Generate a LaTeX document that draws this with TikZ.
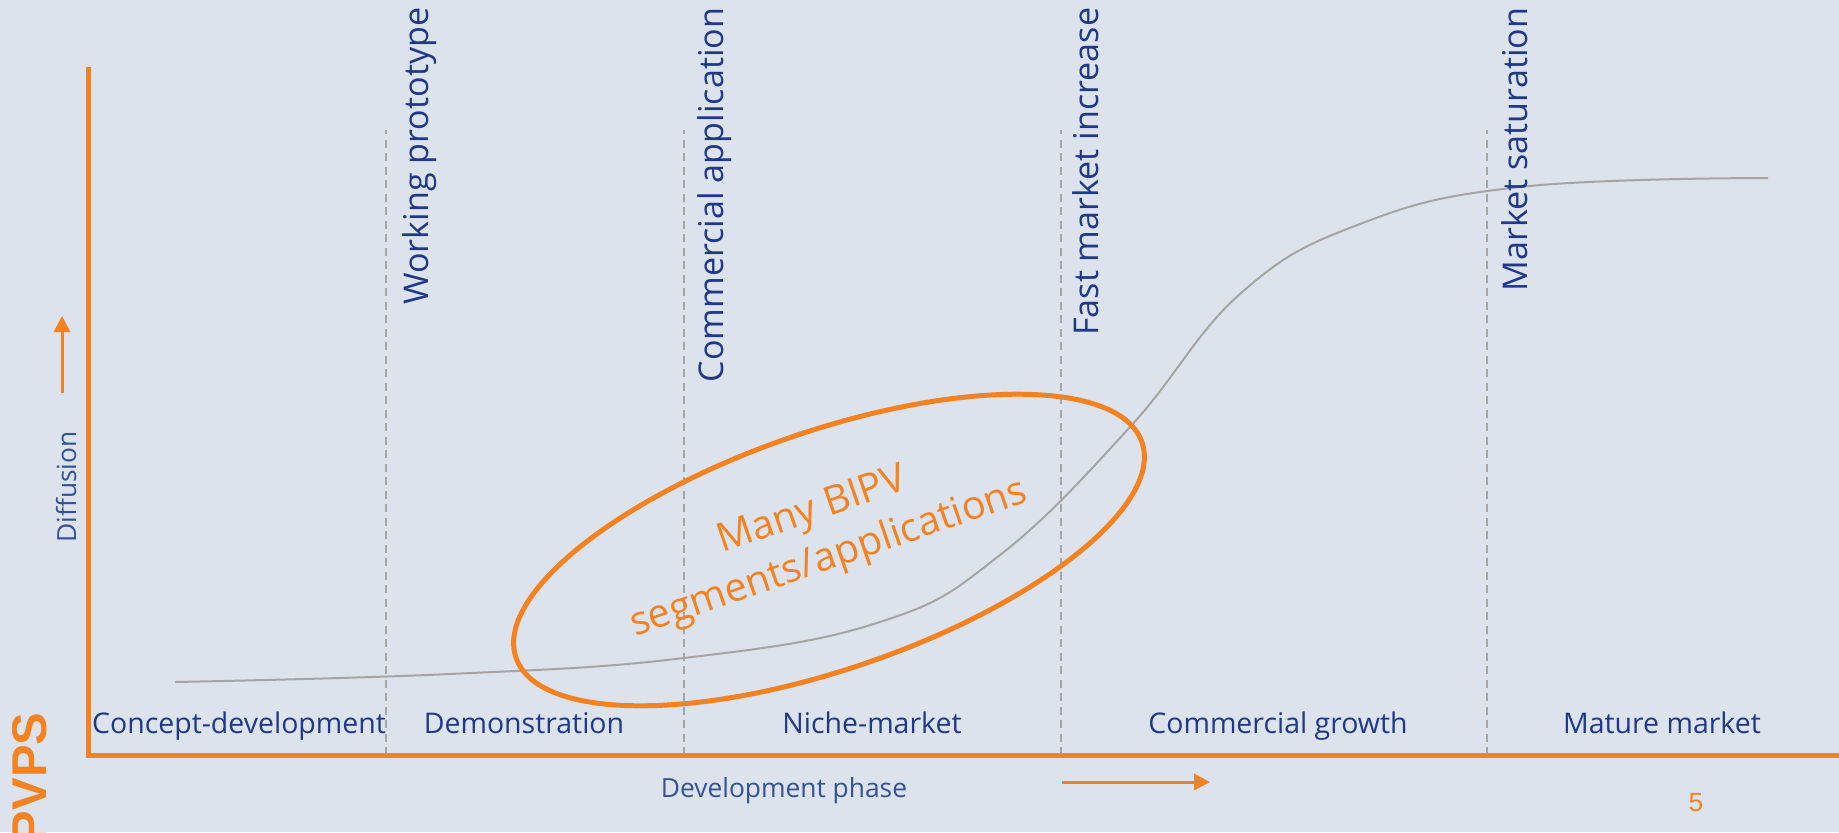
\documentclass[tikz,border=0pt]{standalone}
\usepackage{fontspec}
\setmainfont{Open Sans}
\newfontfamily\logofont{Liberation Sans}
\usetikzlibrary{arrows.meta}

\definecolor{bgblue}{RGB}{220,227,236}
\definecolor{pvorange}{RGB}{245,130,32}
\definecolor{navy}{RGB}{31,56,138}
\definecolor{axisblue}{RGB}{52,82,150}
\definecolor{curvegray}{RGB}{165,165,165}

\begin{document}
\begin{tikzpicture}[x=0.1mm, y=0.1mm,
    milestone/.style={rotate=90, anchor=base east, inner sep=0pt, text=navy, font=\fontsize{9.7}{11}\selectfont},
    phase/.style={anchor=base, inner sep=0pt, text=navy, font=\fontsize{8.1}{10}\selectfont},
    axislabel/.style={inner sep=0pt, text=axisblue, font=\fontsize{7.5}{9}\selectfont},
    guide/.style={curvegray, line width=0.2mm, dash pattern=on 0.8mm off 0.55mm},
    orangearrow/.style={pvorange, line width=0.3mm, -{Triangle[length=1.6mm, width=1.6mm]}}]
    \def\lw{0.5mm}

    % Фон
    \fill[bgblue] (0,0) rectangle (1839,832);
    \useasboundingbox (0,0) rectangle (1839,832);
    \clip (0,0) rectangle (1839,832);

    % Пунктирные линии этапов
    \draw[guide] (386,77) -- (386,702);
    \draw[guide] (684,77) -- (684,702);
    \draw[guide] (1061,77) -- (1061,702);
    \draw[guide] (1487,77) -- (1487,702);

    % S-кривая
    \draw[curvegray, line width=0.2mm] plot[smooth, tension=0.7] coordinates {
        (175,150) (450,158) (684,174) (880,210) (1000,277) (1130,405)
        (1240,538) (1360,608) (1520,645) (1768,654)};

    % Оси
    \draw[pvorange, line width=\lw] (88,765) -- (88,77) -- (1839,77);
    \draw[orangearrow] (62,439) -- (62,516);
    \draw[orangearrow] (1062,50) -- (1210,50);
    \node[axislabel, rotate=90, anchor=base] (diffusion) at (76,345) {Diffusion};
    \node[axislabel, anchor=base] (devphase) at (784,35) {Development phase};

    % Вехи
    \node[milestone] (proto) at (428,825) {Working prototype};
    \node[milestone] (commapp) at (723,825) {Commercial application};
    \node[milestone] (fastinc) at (1098,825) {Fast market increase};
    \node[milestone] (saturation) at (1527,825) {Market saturation};

    % Фазы
    \node[phase] (concept) at (239,99) {Concept-development};
    \node[phase] (demo) at (524,99) {Demonstration};
    \node[phase] (niche) at (872,99) {Niche-market};
    \node[phase] (growth) at (1278,99) {Commercial growth};
    \node[phase] (mature) at (1662,99) {Mature market};

    % Эллипс BIPV
    \draw[pvorange, line width=\lw, rotate around={19:(829,282)}] (829,282) ellipse [x radius=33.1mm, y radius=11.9mm];
    \node[rotate=19, align=center, inner sep=0pt, text=pvorange, font=\fontsize{11.3}{14.5}\selectfont] (bipv) at (821,296)
        {Many BIPV\\segments/applications};

    % Логотип и номер слайда
    \node[rotate=90, anchor=base east, inner sep=0pt, text=pvorange, font=\logofont\bfseries\fontsize{13.9}{14}\selectfont] (pvps) at (47,120) {PVPS};
    \node[inner sep=0pt, text=pvorange, font=\logofont\fontsize{7.5}{9}\selectfont] (pagenum) at (1696,29) {5};

\end{tikzpicture}
\end{document}
